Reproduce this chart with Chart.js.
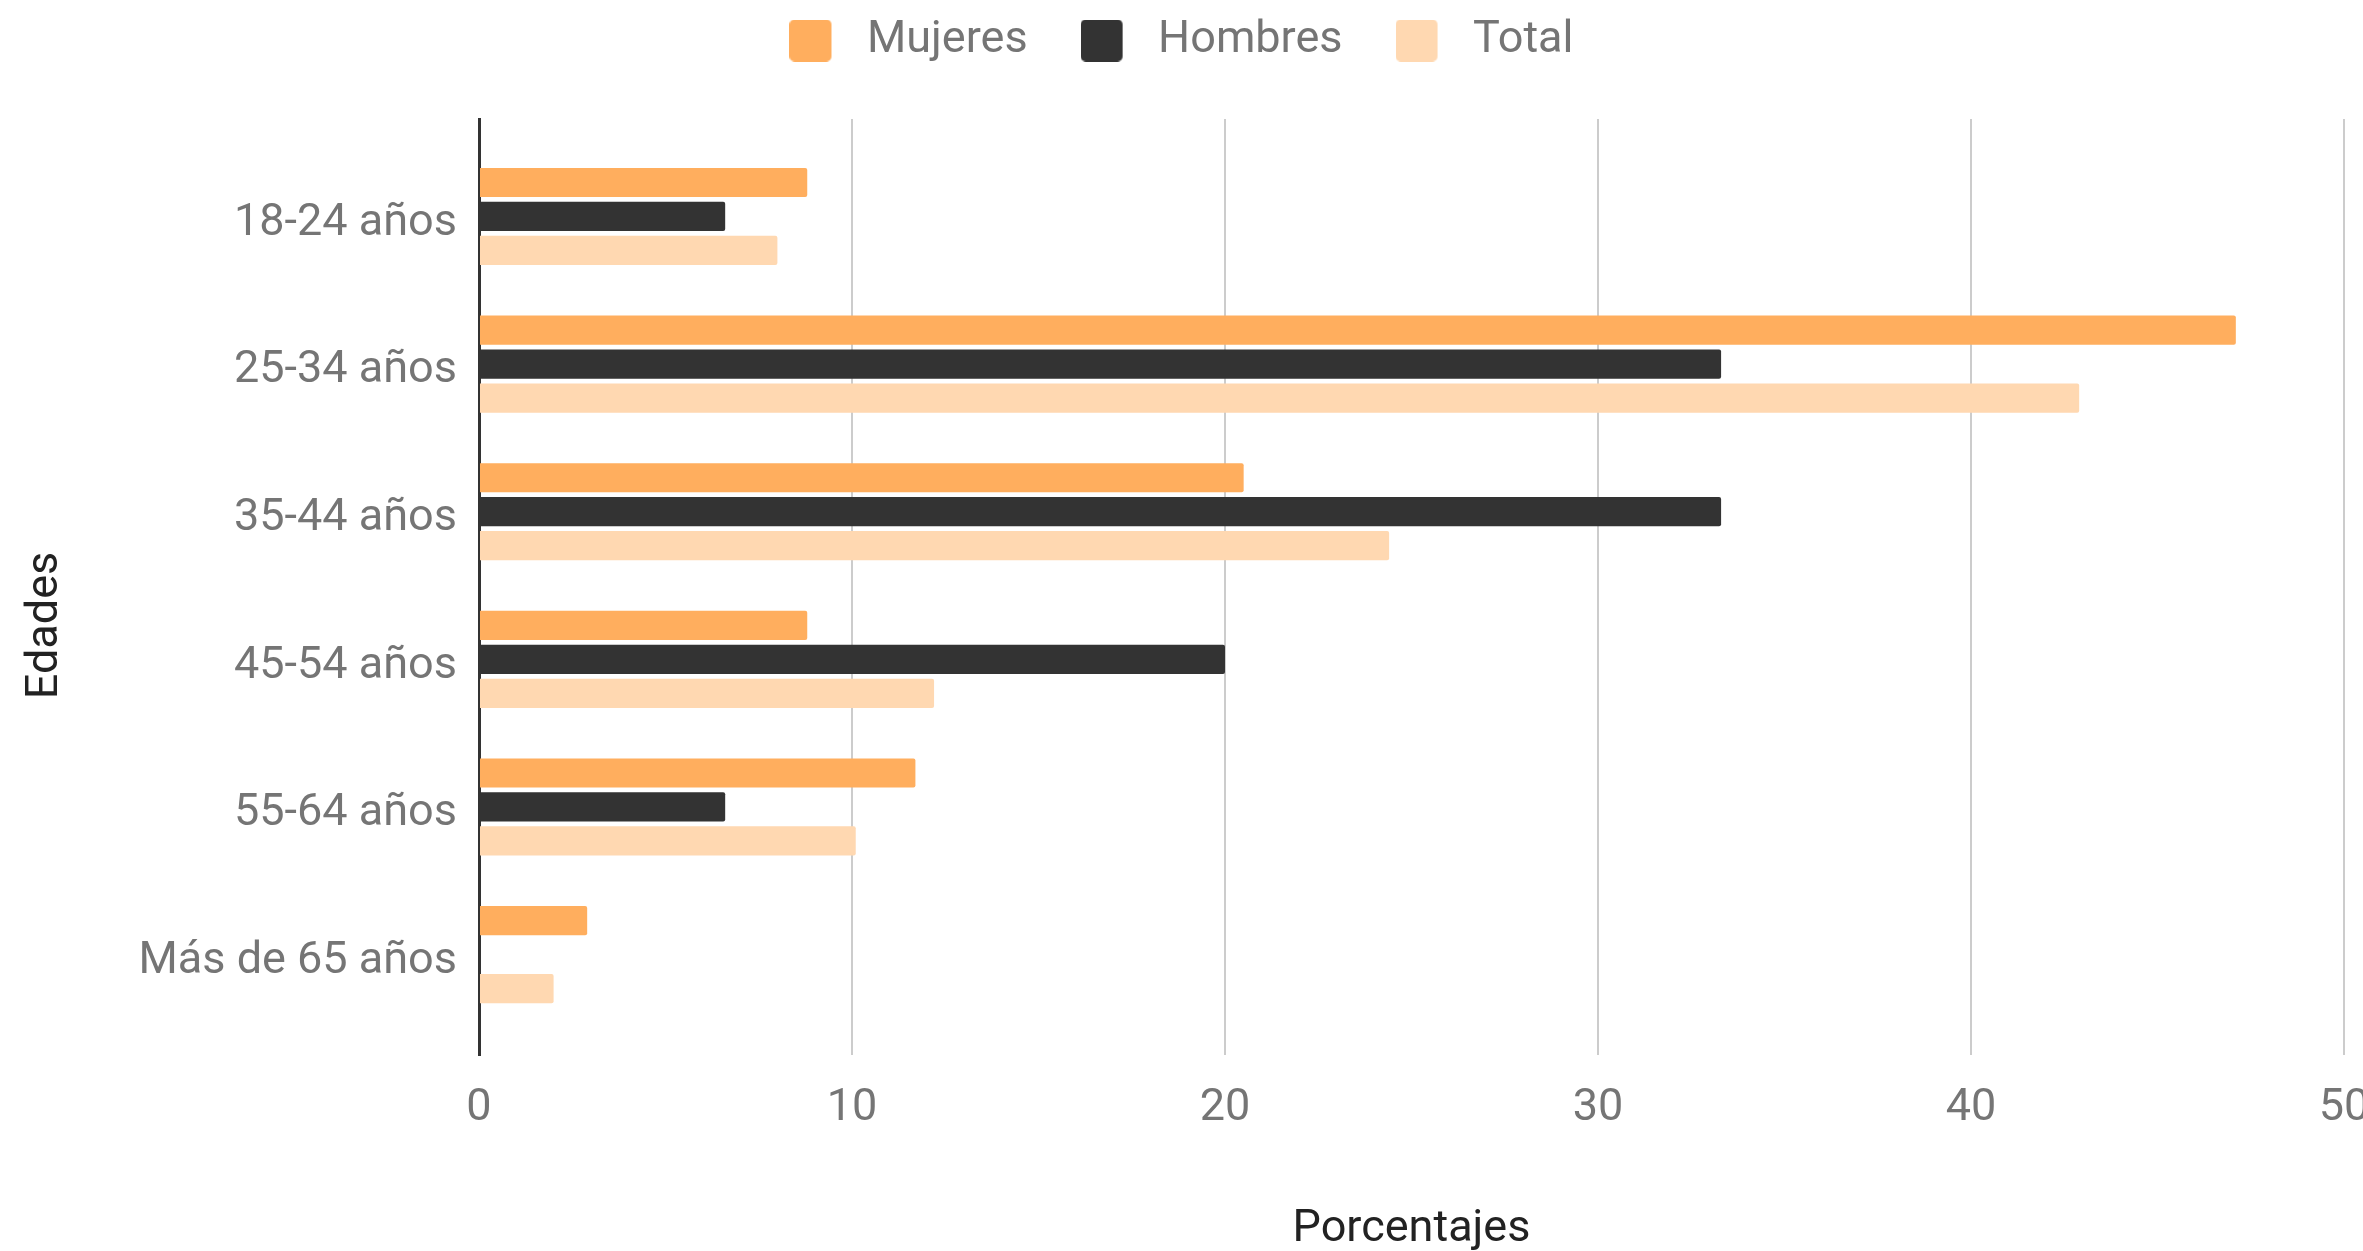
<!DOCTYPE html>
<html>
<head>
<meta charset="utf-8">
<title>Edades por sexo</title>
<script src="https://cdn.jsdelivr.net/npm/chart.js@4.4.1/dist/chart.umd.min.js"></script>
<style>
  html, body { margin: 0; padding: 0; background: #fff; }
  #wrap { width: 2363px; height: 1251px; }
</style>
</head>
<body>
<div id="wrap"><canvas id="grafica"></canvas></div>
<script>
// datos (porcentajes)
var edades = ['18-24 años', '25-34 años', '35-44 años', '45-54 años', '55-64 años', 'Más de 65 años'];
var mujeres = [8.8, 47.1, 20.5, 8.8, 11.7, 2.9];
var hombres = [6.6, 33.3, 33.3, 20.0, 6.6, 0];
var total = [8.0, 42.9, 24.4, 12.2, 10.1, 2.0];
var xTicks = [0, 10, 20, 30, 40, 50];

var colores = { mujeres: '#ffae5e', hombres: '#333333', total: '#ffd8b1' };
var grisTexto = '#757575';
var grisOscuro = '#222222';

Chart.defaults.font.family = 'Roboto';
Chart.defaults.font.size = 45;

// cuadrito de la leyenda con hueco a la derecha (separa el texto)
function muestra(color) {
  var c = document.createElement('canvas');
  c.width = 55;
  c.height = 42;
  var g = c.getContext('2d');
  g.fillStyle = color;
  g.beginPath();
  g.roundRect(0, 0, 42, 42, 5);
  g.fill();
  return c;
}

function serie(nombre, valores, color) {
  return {
    label: nombre,
    data: valores.map(function (v, i) { return { x: v, y: i }; }),
    backgroundColor: color,
    borderWidth: 0,
    borderRadius: 2,
    categoryPercentage: 0.69,
    barPercentage: 0.86,
    swatch: muestra(color)
  };
}

// espacio extra debajo de la leyenda
var margenLeyenda = {
  id: 'margenLeyenda',
  beforeInit: function (chart) {
    var fitOriginal = chart.legend.fit;
    chart.legend.fit = function () {
      fitOriginal.bind(chart.legend)();
      this.height += 46;
    };
  }
};

// titulo del eje vertical centrado en todo el lienzo
var tituloEdades = {
  id: 'tituloEdades',
  afterDraw: function (chart) {
    var ctx = chart.ctx;
    ctx.save();
    ctx.translate(46, chart.height / 2);
    ctx.rotate(-Math.PI / 2);
    ctx.font = '45px Roboto';
    ctx.fillStyle = grisOscuro;
    ctx.textAlign = 'center';
    ctx.textBaseline = 'middle';
    ctx.fillText('Edades', 0, 0);
    ctx.restore();
  }
};

var w = new Chart(document.getElementById('grafica'), {
  type: 'bar',
  data: {
    datasets: [
      serie('Mujeres', mujeres, colores.mujeres),
      serie('Hombres', hombres, colores.hombres),
      serie('Total', total, colores.total)
    ]
  },
  options: {
    indexAxis: 'y',
    responsive: true,
    maintainAspectRatio: false,
    animation: false,
    layout: { padding: { top: -35, left: 0, right: 0, bottom: 0 } },
    scales: {
      x: {
        type: 'linear',
        min: 0,
        max: 50,
        afterBuildTicks: function (s) {
          s.ticks = xTicks.map(function (v) { return { value: v }; });
        },
        afterFit: function (s) {
          s.paddingRight = 19;
          s.height = 196;
        },
        grid: {
          color: function (c) { return c.tick && c.tick.value === 0 ? 'rgba(0,0,0,0)' : '#cccccc'; },
          lineWidth: 2,
          drawTicks: false
        },
        border: { display: false },
        ticks: { color: grisTexto, padding: 27 },
        title: {
          display: true,
          text: 'Porcentajes',
          color: grisOscuro,
          padding: { top: 68, bottom: -6 }
        }
      },
      y: {
        type: 'linear',
        reverse: true,
        offset: false,
        min: -0.66,
        max: 5.68,
        afterBuildTicks: function (s) {
          s.ticks = edades.map(function (e, i) { return { value: i }; });
        },
        afterFit: function (s) {
          s.width = 479;
        },
        grid: { display: false, drawTicks: false, offset: false },
        border: { display: true, color: '#333333', width: 3 },
        ticks: {
          color: grisTexto,
          padding: 22,
          labelOffset: 7,
          callback: function (v) { return edades[v]; }
        }
      }
    },
    plugins: {
      tooltip: { enabled: false },
      legend: {
        position: 'top',
        align: 'center',
        labels: {
          color: grisTexto,
          padding: 53,
          usePointStyle: true,
          pointStyleWidth: 55,
          boxHeight: 42,
          generateLabels: function (chart) {
            var items = Chart.defaults.plugins.legend.labels.generateLabels(chart);
            items.forEach(function (it) {
              it.pointStyle = chart.data.datasets[it.datasetIndex].swatch;
            });
            return items;
          }
        }
      }
    }
  },
  plugins: [margenLeyenda, tituloEdades]
});
</script>
</body>
</html>
